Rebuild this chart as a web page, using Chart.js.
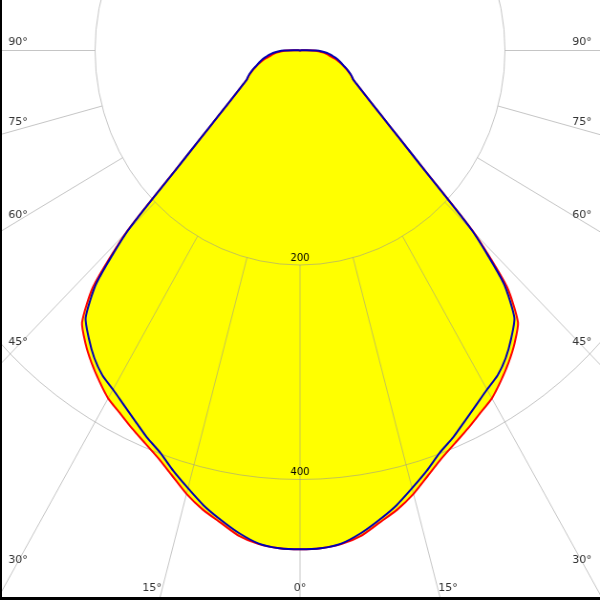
<!DOCTYPE html>
<html><head><meta charset="utf-8">
<script src="https://cdn.jsdelivr.net/npm/chart.js@4.4.1/dist/chart.umd.min.js"></script>
<style>
html,body{margin:0;padding:0;background:#fff;}
#frame{position:relative;width:600px;height:600px;overflow:hidden;background:#fff;}
#wrap{position:absolute;left:0;top:0;width:628px;height:600px;transform:scaleX(0.95541);transform-origin:0 0;}
#bl{position:absolute;left:0;top:0;width:2px;height:600px;background:#000;}
#bb{position:absolute;left:0;top:597px;width:600px;height:3px;background:#000;}
</style></head><body>
<div id="frame"><div id="wrap"><canvas id="c"></canvas></div><div id="bl"></div><div id="bb"></div></div>
<script>
// gamma angles (deg) of one half-plane, 0 = straight down, 180 = straight up
const gamma = [0,2.5,5,7.5,10,12.5,15,17.5,20,22.5,25,27.5,30,32.5,35,37.5,40,42.5,45,47.5,50,52.5,55,57.5,60,62.5,65,67.5,70,72.5,75,77.5,80,82.5,85,87.5,90,
  92.5,95,97.5,100,102.5,105,107.5,110,112.5,115,117.5,120,122.5,125,127.5,130,132.5,135,137.5,140,142.5,145,147.5,150,152.5,155,157.5,160,162.5,165,167.5,170,172.5,175,177.5,180];
// C0-C180 plane (red)
const redValues = [465,464.5,462,456.5,447,438.5,428,415.5,404.5,396,388.5,381,374.5,365,355,344,331,299,240,165,125,101,85,73.5,65,58.5,55,51,47,43,39,34.5,30,26.5,23,18,13,
  5,2,0.5,0,0,0,0,0,0,0,0,0,0,0,0,0,0,0,0,0,0,0,0,0,0,0,0,0,0,0,0,0,0,0,0,0];
// C90-C270 plane (blue)
const blueValues = [465,464.5,461.5,454,444.5,434.5,422.5,411,399,390.5,381,372.5,365,359,350,338.5,325.5,294,238,164,125,101,85,73.5,65,58.5,55.5,51.5,47.5,43.5,40.5,37.5,33.5,30,26.5,21.5,16,
  6,2.5,1,0,0,0,0,0,0,0,0,0,0,0,0,0,0,0,0,0,0,0,0,0,0,0,0,0,0,0,0,0,0,0,0,0];
const radialTicks = [200,400];
const rayAngles = [0,15,30,45,60,75,90];
const STEP = 2.5;
const K = 0.95541;          // horizontal compression of the picture
const GRID = 'rgba(150,150,150,0.55)';

// left half: gamma 0..180 ; right half: gamma 177.5..2.5
function fullCircle(half){ return half.concat(half.slice(1, half.length-1).reverse()); }
const labels = fullCircle(gamma).map(g => g + '°');

const decor = {
  id:'decor',
  beforeDatasetsDraw(chart){
    const s = chart.scales.r, ctx = chart.ctx;
    const n = chart.data.labels.length;
    const cx = s.xCenter, cy = s.yCenter;
    const idx = g => [Math.round(g/STEP) % n, (n - Math.round(g/STEP)) % n];
    ctx.save();
    ctx.strokeStyle = GRID; ctx.lineWidth = 1;
    rayAngles.forEach(g => {
      [...new Set(idx(g))].forEach(i => {
        const a = s.getPointPositionForValue(i, radialTicks[0]);
        const b = s.getPointPositionForValue(i, s.max);
        ctx.beginPath(); ctx.moveTo(a.x, a.y); ctx.lineTo(b.x, b.y); ctx.stroke();
      });
    });
    const text = (str, x, y, font, color) => {
      ctx.save(); ctx.translate(x, y); ctx.scale(1/K, 1);
      ctx.font = font; ctx.fillStyle = color; ctx.textAlign = 'center'; ctx.textBaseline = 'middle';
      ctx.fillText(str, 0, 0); ctx.restore();
    };
    // angle labels at the picture edge
    rayAngles.forEach(g => {
      const ids = [...new Set(idx(g))];
      const rad = g * Math.PI / 180;
      ids.forEach(i => {
        const b = s.getPointPositionForValue(i, s.max);
        const dx = b.x - cx, dy = b.y - cy;
        let x, y;
        if (g >= 30) {
          x = (dx < 0 ? 18 : 582) / K;
          y = cy + (x - cx) / dx * dy - 8 * Math.sin(rad) ** 2;
        } else {
          y = 588;
          x = cx + (y - cy) / dy * dx + (dx < 0 ? -1 : 1) * 40 * Math.sin(rad) / K;
        }
        text(g + '°', x, y, '11px "DejaVu Sans", sans-serif', '#333');
      });
    });
    // intensity tick labels along 0°
    radialTicks.forEach(v => {
      const p = s.getPointPositionForValue(0, v);
      text(String(v), p.x, p.y - 7, '10px "DejaVu Sans", sans-serif', '#000');
    });
    ctx.restore();
  }
};

new Chart(document.getElementById('c'), {
  type: 'radar',
  data: {
    labels,
    datasets: [
      {label:'C90-C270', data: fullCircle(blueValues), borderColor:'#0000b4', backgroundColor:'#ffff00', fill:'origin', borderWidth:2, pointRadius:0, pointHoverRadius:0, borderJoinStyle:'round', tension:0.2, clip:false},
      {label:'C0-C180', data: fullCircle(redValues), borderColor:'#ff0000', backgroundColor:'#ffff00', fill:'origin', borderWidth:2, pointRadius:0, pointHoverRadius:0, borderJoinStyle:'round', tension:0.2, clip:false}
    ]
  },
  options: {
    responsive:true, maintainAspectRatio:false, animation:false, events:[],
    layout:{padding:0},
    plugins:{legend:{display:false}, tooltip:{enabled:false}, filler:{drawTime:'beforeDraw'}},
    scales:{
      r:{
        min:0, max:600, startAngle:180,
        ticks:{display:false, stepSize:200},
        pointLabels:{display:false},
        angleLines:{display:false},
        grid:{circular:true, color:GRID, lineWidth:1},
        afterFit(scale){
          scale.xCenter = scale.chart.width / 2;
          scale.yCenter = 50.5;
          scale.drawingArea = 1.0725 * 600;
        }
      }
    }
  },
  plugins:[decor]
});
</script>
</body></html>
